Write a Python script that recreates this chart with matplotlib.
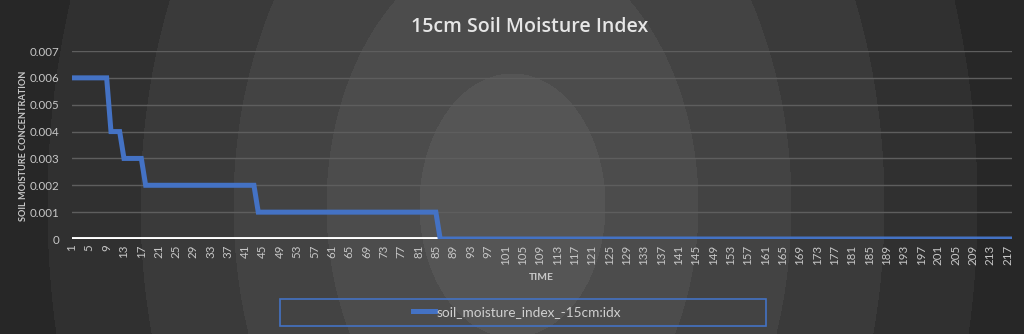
import matplotlib
matplotlib.use("Agg")
import matplotlib.pyplot as plt
from matplotlib.patches import Rectangle
import numpy as np

levels = [0.006, 0.004, 0.003, 0.002, 0.001, 0.0]
counts = [9, 3, 5, 26, 42, 133]
series_name = "soil_moisture_index_-15cm:idx"
title = "15cm Soil Moisture Index"
x_label = "TIME"
y_label = "SOIL MOISTURE CONCENTRATION"
y_ticks = [0, 0.001, 0.002, 0.003, 0.004, 0.005, 0.006, 0.007]
y_tick_labels = ["0", "0.001", "0.002", "0.003", "0.004", "0.005", "0.006", "0.007"]

values = np.repeat(levels, counts)
time = np.arange(1, len(values) + 1)

plt.rcParams['font.family'] = ['Lato', 'DejaVu Sans']
W, H = 1024, 334
fig = plt.figure(figsize=(W / 100, H / 100), dpi=100)

# dark banded radial background like the Excel chart style
bg = fig.add_axes([0, 0, 1, 1], zorder=-10)
yy, xx = np.mgrid[0:H, 0:W]
r = np.sqrt(((xx - 512) / 93.0) ** 2 + ((yy - 205) / 132.0) ** 2)
band = np.floor(r)
shade = 0.335 - 0.036 * band
shade = np.clip(shade, 0.118, 0.34)
bg.imshow(shade, cmap='gray', vmin=0, vmax=1, aspect='auto', interpolation='bilinear')
bg.axis('off')

ax = fig.add_axes([72 / W, 1 - 239 / H, (1012 - 72) / W, (239 - 51) / H])
ax.set_facecolor('none')
ax.set_xlim(1, len(values))
ax.set_ylim(0, 0.007)

ax.set_yticks(y_ticks)
ax.set_yticklabels(y_tick_labels)
ax.grid(axis='y', color='#5e5e5e', linewidth=1)
ax.set_axisbelow(True)

ax.axhline(0, color='white', linewidth=2.8, zorder=2)
ax.plot(time, values, color='#4472C4', linewidth=3.6, label=series_name,
        solid_joinstyle='miter', zorder=3)

ax.set_xticks(time[::4])
ax.set_xticklabels([str(t) for t in time[::4]], rotation=90)
ax.tick_params(axis='both', length=0, colors='#c8c8c8', labelsize=8.3)
ax.tick_params(axis='x', pad=4)
ax.tick_params(axis='y', pad=9)
for s in ax.spines.values():
    s.set_visible(False)

fig.text(530 / W, 1 - 27 / H, title, ha='center', va='center',
         fontsize=14, color='#e6e6e6', fontweight='semibold', family=['Open Sans', 'DejaVu Sans'])
fig.text(541 / W, 1 - 277 / H, x_label, ha='center', va='center',
         fontsize=7.4, color='#c8c8c8', fontweight='bold')
fig.text(24 / W, 1 - 146 / H, y_label, ha='center', va='center', rotation=90,
         fontsize=6.6, color='#c8c8c8', fontweight='bold')

leg = ax.legend(loc='center', bbox_to_anchor=(517 / W, 1 - 312 / H),
                bbox_transform=fig.transFigure, frameon=False, fontsize=9.8,
                handlelength=1.6, handletextpad=0.15, borderpad=0.2)
for t in leg.get_texts():
    t.set_color('#d0d0d0')
fig.patches.append(Rectangle((280 / W, 1 - 326 / H), (766 - 280) / W, (326 - 299) / H,
                             transform=fig.transFigure, fill=False,
                             edgecolor='#4472C4', linewidth=1.2))

fig.savefig('out.png', dpi=100)
